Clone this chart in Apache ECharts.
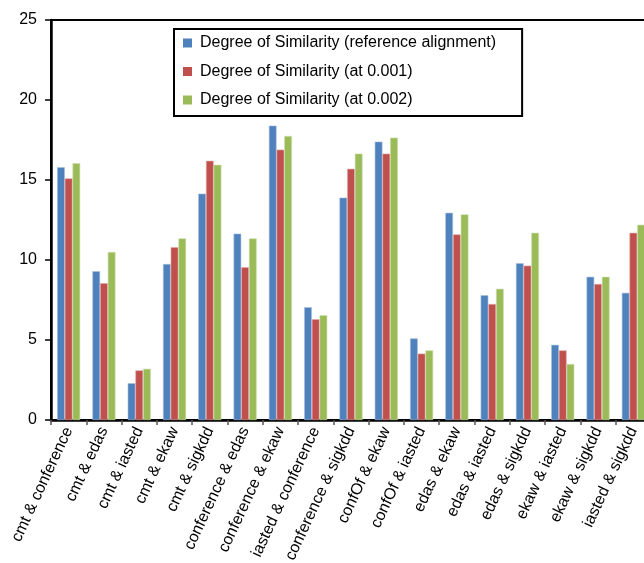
<!DOCTYPE html>
<html>
<head>
<meta charset="utf-8">
<script src="https://cdn.jsdelivr.net/npm/echarts@6/dist/echarts.min.js"></script>
<style>
  html, body { margin: 0; padding: 0; background: #fff; }
  #chart { width: 644px; height: 563px; }
</style>
</head>
<body>
<div id="chart"></div>
<script>
// Ontology pairs compared
const categories = [
  'cmt & conference', 'cmt & edas', 'cmt & iasted', 'cmt & ekaw', 'cmt & sigkdd',
  'conference & edas', 'conference & ekaw', 'iasted & conference', 'conference & sigkdd',
  'confOf & ekaw', 'confOf & iasted', 'edas & ekaw', 'edas & iasted', 'edas & sigkdd',
  'ekaw & iasted', 'ekaw & sigkdd', 'iasted & sigkdd'
];

const seriesNames = [
  'Degree of Similarity (reference alignment)',
  'Degree of Similarity (at 0.001)',
  'Degree of Similarity (at 0.002)'
];

const refAlignment = [15.8, 9.3, 2.3, 9.75, 14.15, 11.65, 18.4, 7.05, 13.9, 17.4, 5.1, 12.95, 7.8, 9.8, 4.7, 8.95, 7.95];
const at0001 = [15.1, 8.55, 3.1, 10.8, 16.2, 9.55, 16.9, 6.3, 15.7, 16.65, 4.15, 11.6, 7.25, 9.65, 4.35, 8.5, 11.7];
const at0002 = [16.05, 10.5, 3.2, 11.35, 15.95, 11.35, 17.75, 6.55, 16.65, 17.65, 4.35, 12.85, 8.2, 11.7, 3.5, 8.95, 12.2];

const yTicks = [0, 5, 10, 15, 20, 25];

const colors = ['#4F81BD', '#C0504D', '#9BBB59'];
const edgeColors = ['#A7C0DE', '#E0A8A6', '#CDDDAC'];
const font = '"Liberation Sans", Arial, sans-serif';

const chart = echarts.init(document.getElementById('chart'), null, { renderer: 'canvas' });

const values = [refAlignment, at0001, at0002];

chart.setOption({
  animation: false,
  backgroundColor: '#fff',
  grid: {
    left: 51, top: 20, width: 600, height: 400,
    containLabel: false,
    outerBoundsMode: 'none',
    show: true, borderColor: '#000', borderWidth: 2, backgroundColor: 'transparent'
  },
  legend: {
    left: 174, top: 29,
    orient: 'vertical',
    backgroundColor: '#fff',
    borderColor: '#000', borderWidth: 2,
    padding: [6, 26, 8, 9],
    itemGap: 12.5,
    itemWidth: 9, itemHeight: 9,
    icon: 'rect',
    itemStyle: { borderWidth: 0 },
    textStyle: { fontFamily: font, fontSize: 16, color: '#000', lineHeight: 16, padding: [0, 0, 0, 3] },
    data: seriesNames
  },
  xAxis: {
    type: 'category',
    data: categories,
    axisLine: { lineStyle: { color: '#000', width: 2.5 } },
    axisTick: { show: true, alignWithLabel: false, length: 5, lineStyle: { color: '#555', width: 1.5 } },
    axisLabel: {
      interval: 0, rotate: 65, margin: 8,
      fontFamily: font, fontSize: 16, color: '#000'
    },
    splitLine: { show: false }
  },
  yAxis: {
    type: 'value',
    min: yTicks[0], max: yTicks[yTicks.length - 1], interval: 5,
    axisLine: { show: true, lineStyle: { color: '#000', width: 2.5 } },
    axisTick: { show: true, length: 6, lineStyle: { color: '#000', width: 1.5 } },
    axisLabel: { margin: 14, fontFamily: font, fontSize: 16, color: '#000' },
    splitLine: { show: false }
  },
  series: seriesNames.map((name, i) => ({
    name,
    type: 'bar',
    data: values[i],
    barWidth: 7.7,
    barGap: '0%',
    itemStyle: { color: colors[i], borderColor: edgeColors[i], borderWidth: 0.6 }
  }))
});
</script>
</body>
</html>
